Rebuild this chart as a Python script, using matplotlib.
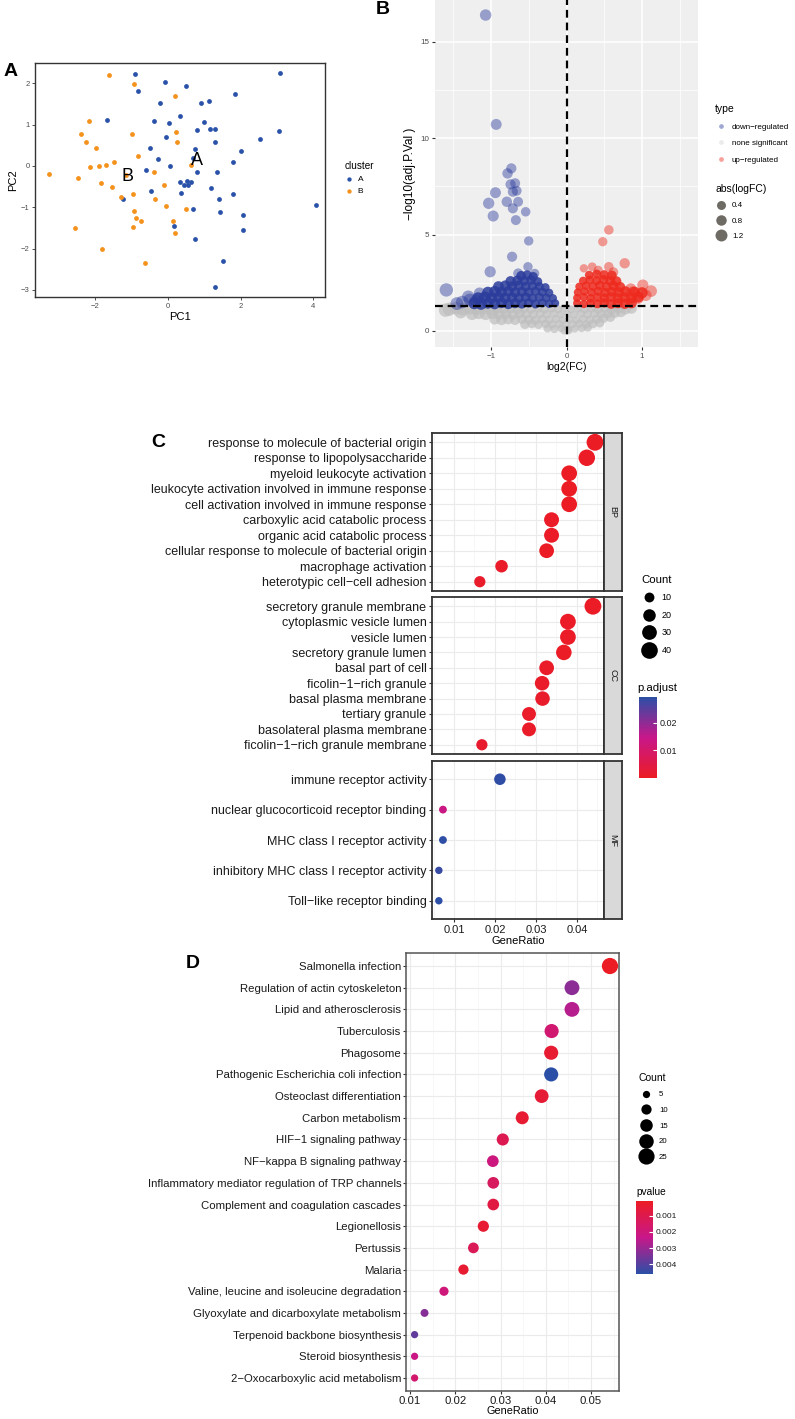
import numpy as np
import matplotlib
matplotlib.use('agg')
import matplotlib.pyplot as plt
from matplotlib.colors import LinearSegmentedColormap, Normalize
from matplotlib.lines import Line2D
import matplotlib.colorbar as mcb

plt.rcParams['font.family'] = ['Liberation Sans', 'DejaVu Sans']

# ---------------- data: A (PCA) ----------------
pca_a_x = [-0.92, -0.07, 0.50, -0.83, 3.07, 1.83, -0.23, 0.92, 1.12, -1.68, -0.39, 0.02, 0.34,
           0.98, 0.80, 1.15, 1.30, 1.28, 3.05, 2.52, -0.05, -0.50, 0.73, 2.01, -0.28, 0.69, 1.79,
           0.06, -0.61, 0.80, 1.35, 0.32, 0.52, 0.63, 0.43, 0.55, 1.17, -0.46, 0.36, 1.78, -1.25,
           1.39, 0.69, 1.42, 2.05, 4.06, 0.16, 2.06, 0.73, 1.50, 1.28]
pca_a_y = [2.22, 2.04, 1.94, 1.81, 2.26, 1.73, 1.53, 1.53, 1.56, 1.11, 1.09, 1.05, 1.21,
           1.06, 0.87, 0.90, 0.90, 0.57, 0.85, 0.65, 0.69, 0.43, 0.41, 0.35, 0.18, 0.19, 0.09,
           0.01, -0.10, -0.15, -0.14, -0.38, -0.36, -0.38, -0.46, -0.46, -0.54, -0.60, -0.66, -0.69, -0.81,
           -0.81, -1.05, -1.12, -1.18, -0.95, -1.45, -1.56, -1.76, -2.29, -2.93]
pca_b_x = [-1.63, -0.93, 0.18, -2.17, -2.39, -0.99, 0.21, -2.25, 0.26, -1.99, -0.83, -1.48, -2.14,
           -1.89, -1.70, 0.62, -3.28, -2.49, -0.39, -1.15, -1.85, -1.55, -0.11, -1.28, -0.95, -0.37,
           -0.06, 0.50, -0.93, -0.87, -0.74, -0.95, 0.13, 0.18, -2.55, -1.83, -0.62]
pca_b_y = [2.19, 1.98, 1.69, 1.08, 0.78, 0.78, 0.83, 0.59, 0.57, 0.44, 0.23, 0.09, -0.02,
           0.00, 0.02, 0.02, -0.19, -0.29, -0.15, -0.22, -0.42, -0.50, -0.47, -0.74, -0.68, -0.81,
           -0.98, -1.04, -1.08, -1.25, -1.34, -1.48, -1.32, -1.62, -1.50, -2.02, -2.34]
centroid_a = (0.79, 0.14)
centroid_b = (-1.11, -0.26)

# ---------------- data: B (volcano) ----------------
# isolated genes (drawn lighter) and the crowded genes near the thresholds
down_out_x = [-1.07, -0.93, -0.73, -0.78, -0.74, -0.68, -0.66, -0.71, -0.94, -1.03, -0.79, -0.64,
              -0.71, -0.97, -0.67, -0.54, -0.50, -0.72, -1.01, -0.51, -0.42, -0.64, -1.59, -1.30,
              -1.38, -1.45, -1.28, -1.15, -1.20]
down_out_y = [16.38, 10.71, 8.43, 8.17, 7.60, 7.66, 7.27, 7.22, 7.17, 6.62, 6.70, 6.70,
              6.36, 5.96, 5.75, 6.18, 4.67, 3.85, 3.07, 3.33, 2.99, 2.99, 2.13, 1.78,
              1.50, 1.42, 1.62, 1.95, 1.55]
down_core_x = [-1.22, -1.13, -1.04, -0.95, -0.86, -0.77, -0.68, -0.59, -0.50, -0.41, -0.32, -0.23, -0.15,
               -1.17, -1.08, -0.99, -0.90, -0.81, -0.72, -0.63, -0.54, -0.45, -0.36, -0.27, -0.18,
               -1.04, -0.95, -0.86, -0.77, -0.68, -0.59, -0.50, -0.41, -0.32, -0.23,
               -0.90, -0.81, -0.72, -0.63, -0.54, -0.45, -0.36, -0.28,
               -0.74, -0.65, -0.56, -0.47, -0.38, -0.60, -0.52, -0.44]
down_core_y = [1.44, 1.40, 1.45, 1.41, 1.46, 1.40, 1.44, 1.41, 1.46, 1.40, 1.45, 1.41, 1.44,
               1.70, 1.75, 1.71, 1.76, 1.70, 1.74, 1.71, 1.76, 1.70, 1.75, 1.72, 1.70,
               2.00, 2.05, 2.01, 2.06, 2.00, 2.04, 2.01, 2.06, 2.02, 1.98,
               2.30, 2.35, 2.31, 2.36, 2.30, 2.34, 2.31, 2.26,
               2.58, 2.62, 2.60, 2.64, 2.56, 2.86, 2.90, 2.82]
up_out_x = [0.56, 0.48, 0.77, 0.34, 0.56, 1.01, 1.12, 0.95, 0.23, 0.88, 0.42, 0.62, 1.05, 0.85]
up_out_y = [5.24, 4.63, 3.51, 3.33, 3.33, 2.38, 2.07, 1.69, 3.25, 2.04, 3.15, 3.05, 1.85, 2.20]
up_core_x = [0.14, 0.23, 0.32, 0.41, 0.50, 0.59, 0.68, 0.77, 0.86,
             0.14, 0.23, 0.32, 0.41, 0.50, 0.59, 0.68, 0.77, 0.86, 0.95,
             0.15, 0.24, 0.33, 0.42, 0.51, 0.60, 0.69, 0.78, 0.90, 1.00,
             0.17, 0.26, 0.35, 0.44, 0.53, 0.62, 0.71,
             0.22, 0.31, 0.40, 0.49, 0.58, 0.66,
             0.30, 0.40, 0.50, 0.60]
up_core_y = [1.44, 1.40, 1.45, 1.41, 1.46, 1.40, 1.44, 1.41, 1.45,
             1.71, 1.76, 1.70, 1.75, 1.71, 1.76, 1.70, 1.74, 1.71, 1.76,
             2.00, 2.05, 2.01, 2.06, 2.00, 2.04, 2.01, 2.05, 2.02, 1.98,
             2.30, 2.35, 2.31, 2.36, 2.30, 2.34, 2.28,
             2.60, 2.65, 2.61, 2.66, 2.60, 2.58,
             2.90, 2.95, 2.91, 2.88]
ns_x = [-1.55, -1.46, -1.37, -1.28, -1.19, -1.10, -1.01, -0.92, -0.83, -0.74, -0.65, -0.56, -0.47, -0.38,
        -0.29, -0.20, -0.11, -0.03, 0.06, 0.15, 0.24, 0.33, 0.42, 0.51, 0.60, 0.69, 0.78, 0.86,
        -1.25, -1.16, -1.07, -0.98, -0.89, -0.80, -0.71, -0.62, -0.53, -0.44, -0.35, -0.26, -0.17,
        -0.08, 0.01, 0.10, 0.19, 0.28, 0.37, 0.46, 0.55, 0.64, 0.72,
        -0.95, -0.86, -0.77, -0.68, -0.59, -0.50, -0.41, -0.32, -0.23, -0.14, -0.05, 0.04, 0.13,
        0.22, 0.31, 0.40, 0.49, 0.58,
        -0.55, -0.46, -0.37, -0.28, -0.19, -0.10, -0.01, 0.08, 0.17, 0.26, 0.35, 0.44,
        -0.25, -0.16, -0.07, 0.02, 0.11, 0.20, 0.28, -0.03, 0.03, -1.60, -1.40]
ns_y = [1.13, 1.18, 1.12, 1.17, 1.13, 1.18, 1.12, 1.17, 1.13, 1.18, 1.12, 1.17, 1.13, 1.18,
        1.12, 1.17, 1.13, 1.18, 1.12, 1.17, 1.13, 1.18, 1.12, 1.17, 1.13, 1.18, 1.12, 1.17,
        0.88, 0.92, 0.86, 0.91, 0.87, 0.90, 0.85, 0.91, 0.88, 0.86, 0.90, 0.87, 0.91,
        0.86, 0.89, 0.85, 0.90, 0.87, 0.91, 0.88, 0.90, 0.93, 0.98,
        0.62, 0.58, 0.61, 0.57, 0.62, 0.59, 0.56, 0.61, 0.58, 0.62, 0.57, 0.60, 0.56,
        0.61, 0.58, 0.62, 0.66, 0.72,
        0.35, 0.38, 0.33, 0.37, 0.34, 0.36, 0.32, 0.35, 0.38, 0.34, 0.37, 0.42,
        0.14, 0.10, 0.13, 0.09, 0.12, 0.15, 0.18, 0.02, 0.03, 1.08, 0.98]
fc_cut = 0
p_cut = 1.3
logfc_breaks = [0.4, 0.8, 1.2]

# ---------------- data: C (GO dotplot) ----------------
bp_terms = ['response to molecule of bacterial origin', 'response to lipopolysaccharide',
            'myeloid leukocyte activation', 'leukocyte activation involved in immune response',
            'cell activation involved in immune response', 'carboxylic acid catabolic process',
            'organic acid catabolic process', 'cellular response to molecule of bacterial origin',
            'macrophage activation', 'heterotypic cell\u2212cell adhesion']
bp_ratio = [0.0444, 0.0424, 0.0381, 0.0381, 0.0381, 0.0338, 0.0338, 0.0326, 0.0216, 0.0163]
bp_count = [41, 39, 35, 35, 35, 31, 31, 30, 20, 15]
bp_padj = [0.0002, 0.0003, 0.0001, 0.0001, 0.0001, 0.0006, 0.0006, 0.0004, 0.0009, 0.0012]

cc_terms = ['secretory granule membrane', 'cytoplasmic vesicle lumen', 'vesicle lumen',
            'secretory granule lumen', 'basal part of cell', 'ficolin\u22121\u2212rich granule',
            'basal plasma membrane', 'tertiary granule', 'basolateral plasma membrane',
            'ficolin\u22121\u2212rich granule membrane']
cc_ratio = [0.0439, 0.0378, 0.0378, 0.0368, 0.0326, 0.0315, 0.0316, 0.0283, 0.0283, 0.0168]
cc_count = [41, 35, 35, 34, 30, 29, 29, 26, 26, 15]
cc_padj = [0.0003, 0.0005, 0.0005, 0.0004, 0.0010, 0.0008, 0.0012, 0.0007, 0.0009, 0.0015]

mf_terms = ['immune receptor activity', 'nuclear glucocorticoid receptor binding',
            'MHC class I receptor activity', 'inhibitory MHC class I receptor activity',
            'Toll\u2212like receptor binding']
mf_ratio = [0.0212, 0.0073, 0.0073, 0.0063, 0.0063]
mf_count = [16, 4, 4, 3, 3]
mf_padj = [0.0285, 0.0135, 0.0286, 0.0278, 0.0288]
go_count_breaks = [10, 20, 30, 40]
padj_ticks = [0.01, 0.02]

# ---------------- data: D (KEGG dotplot) ----------------
kegg_terms = ['Salmonella infection', 'Regulation of actin cytoskeleton', 'Lipid and atherosclerosis',
              'Tuberculosis', 'Phagosome', 'Pathogenic Escherichia coli infection',
              'Osteoclast differentiation', 'Carbon metabolism', 'HIF\u22121 signaling pathway',
              'NF\u2212kappa B signaling pathway', 'Inflammatory mediator regulation of TRP channels',
              'Complement and coagulation cascades', 'Legionellosis', 'Pertussis', 'Malaria',
              'Valine, leucine and isoleucine degradation', 'Glyoxylate and dicarboxylate metabolism',
              'Terpenoid backbone biosynthesis', 'Steroid biosynthesis', '2\u2212Oxocarboxylic acid metabolism']
kegg_ratio = [0.0542, 0.0458, 0.0458, 0.0413, 0.0412, 0.0412, 0.0391, 0.0348, 0.0305, 0.0283,
              0.0284, 0.0284, 0.0262, 0.0240, 0.0218, 0.0175, 0.0132, 0.0110, 0.0110, 0.0110]
kegg_count = [25, 21, 21, 19, 19, 19, 18, 16, 14, 13, 13, 13, 12, 11, 10, 8, 6, 5, 5, 5]
kegg_p = [0.00012, 0.0032, 0.0026, 0.0018, 0.0004, 0.0046, 0.0005, 0.0004, 0.0011, 0.0021,
          0.0014, 0.0008, 0.0004, 0.0012, 0.0004, 0.0020, 0.0033, 0.0038, 0.0022, 0.0017]
kegg_count_breaks = [5, 10, 15, 20, 25]
p_ticks = [0.001, 0.002, 0.003, 0.004]

# ---------------- figure ----------------
W, H = 795, 1419
fig = plt.figure(figsize=(W / 100, H / 100), dpi=100)
PT = 0.72  # points per pixel


def box(l, t, r, b):
    return [l / W, 1 - b / H, (r - l) / W, (b - t) / H]


def fx(x):
    return x / W


def fy(y):
    return 1 - y / H


rb = LinearSegmentedColormap.from_list('rb', ['#EC1C24', '#C8178A', '#2B4FA6'])
txt = '#1A1A1A'
gridc = '#EBEBEB'

# ---- A ----
axA = fig.add_axes(box(35, 63, 325, 297))
axA.scatter(pca_a_x, pca_a_y, s=12, color='#2A52A8', lw=0, label='A')
axA.scatter(pca_b_x, pca_b_y, s=12, color='#F5921E', lw=0, label='B')
axA.text(*centroid_a, 'A', fontsize=13, ha='center', va='center')
axA.text(*centroid_b, 'B', fontsize=13, ha='center', va='center')
axA.set_xlim(-3.66, 4.32)
axA.set_ylim(-3.17, 2.49)
axA.set_xticks([-2, 0, 2, 4])
axA.set_yticks([-3, -2, -1, 0, 1, 2])
axA.tick_params(labelsize=5.5, length=2.5, width=0.6, colors='#333333', labelcolor='#4D4D4D', pad=1.5)
for sp in axA.spines.values():
    sp.set_color('#333333')
    sp.set_linewidth(1.0)
axA.set_xlabel('PC1', fontsize=8, labelpad=2)
axA.set_ylabel('PC2', fontsize=8, labelpad=2)
fig.legend(*axA.get_legend_handles_labels(), title='cluster', loc='upper left',
           bbox_to_anchor=(fx(340), fy(157)), frameon=False, fontsize=6, title_fontsize=7.2,
           markerscale=0.9, handletextpad=0.4, borderpad=0, labelspacing=0.5, alignment='left',
           handlelength=1.2)
fig.text(fx(4), fy(72), 'A', fontsize=14, fontweight='bold', va='center')

# ---- B ----
axB = fig.add_axes(box(435, 0, 698, 347))
axB.set_facecolor('#EFEFEF')


def vsize(xs):
    return [((7.5 + 3.7 * abs(v)) * PT) ** 2 for v in xs]


blue, red, grey = '#2B3C9C', '#EE2A1E', '#BEBEBE'
axB.scatter(ns_x, ns_y, s=vsize(ns_x), color=grey, alpha=0.7, lw=0, zorder=2)
axB.scatter(down_core_x, down_core_y, s=vsize(down_core_x), color=blue, alpha=0.85, lw=0, zorder=3)
axB.scatter(down_out_x, down_out_y, s=vsize(down_out_x), color=blue, alpha=0.45, lw=0, zorder=3)
axB.scatter(up_core_x, up_core_y, s=vsize(up_core_x), color=red, alpha=0.85, lw=0, zorder=3)
axB.scatter(up_out_x, up_out_y, s=vsize(up_out_x), color=red, alpha=0.45, lw=0, zorder=3)
axB.axvline(fc_cut, color='black', lw=1.6, dashes=(3.5, 2.2), zorder=4)
axB.axhline(p_cut, color='black', lw=1.6, dashes=(3.5, 2.2), zorder=4)
axB.set_xlim(-1.74, 1.74)
axB.set_ylim(-0.83, 17.16)
axB.set_xticks([-1, 0, 1])
axB.set_xticks([-1.5, -0.5, 0.5, 1.5], minor=True)
axB.set_yticks([0, 5, 10, 15])
axB.set_yticks([2.5, 7.5, 12.5], minor=True)
axB.grid(which='major', color='white', lw=1.1, zorder=0)
axB.grid(which='minor', color='white', lw=0.5, zorder=0)
axB.set_axisbelow(True)
axB.tick_params(which='major', labelsize=5.8, length=2.5, width=0.8, colors='#333333',
                labelcolor='#4D4D4D', pad=1.5)
axB.tick_params(which='minor', length=0)
for sp in axB.spines.values():
    sp.set_visible(False)
axB.set_xlabel('log2(FC)', fontsize=7.5, labelpad=2)
axB.set_ylabel('\u2212log10(adj.P.Val )', fontsize=8.6, labelpad=3)

type_handles = [Line2D([], [], ls='none', marker='o', ms=3.4, mec='none', mfc=c, alpha=a)
                for c, a in [(blue, 0.45), (grey, 0.3), (red, 0.45)]]
fig.legend(type_handles, ['down\u2212regulated', 'none significant', 'up\u2212regulated'],
           title='type', loc='upper left', bbox_to_anchor=(fx(711), fy(100)), frameon=False,
           fontsize=5.8, title_fontsize=7.5, handletextpad=0.5, borderpad=0,
           labelspacing=1.1, alignment='left', handlelength=1.6)
size_handles = [Line2D([], [], ls='none', marker='o', ms=(7.5 + 3.7 * v) * PT, mec='none', mfc='#6E6A64')
                for v in logfc_breaks]
fig.legend(size_handles, [str(v) for v in logfc_breaks], title='abs(logFC)', loc='upper left',
           bbox_to_anchor=(fx(711), fy(180)), frameon=False, fontsize=5.8, title_fontsize=7.5,
           handletextpad=0.5, borderpad=0, labelspacing=0.95, alignment='left', handlelength=1.6)
fig.text(fx(376), fy(10), 'B', fontsize=14, fontweight='bold', va='center')

# ---- C ----
padj_norm = Normalize(vmin=0.0, vmax=0.029)


def go_size(c):
    return [(np.sqrt(55 + 6.0 * (v - 3)) * PT) ** 2 for v in c]


facets = [('BP', bp_terms, bp_ratio, bp_count, bp_padj, 433, 591),
          ('CC', cc_terms, cc_ratio, cc_count, cc_padj, 597, 754),
          ('MF', mf_terms, mf_ratio, mf_count, mf_padj, 761, 919)]
for name, terms, ratio, count, padj, top, bot in facets:
    ax = fig.add_axes(box(432, top, 604, bot))
    n = len(terms)
    ypos = np.arange(n, 0, -1)
    ax.scatter(ratio, ypos, s=go_size(count), c=padj, cmap=rb, norm=padj_norm, lw=0, zorder=3)
    ax.set_xlim(0.00463, 0.0466)
    ax.set_ylim(0.4, n + 0.6)
    ax.set_yticks(ypos)
    ax.set_yticklabels(terms)
    ax.set_xticks([0.01, 0.02, 0.03, 0.04])
    ax.set_xticks([0.005, 0.015, 0.025, 0.035, 0.045], minor=True)
    ax.grid(which='major', color=gridc, lw=0.8, zorder=0)
    ax.grid(which='minor', axis='x', color='#F4F4F4', lw=0.5, zorder=0)
    ax.tick_params(which='major', labelsize=9, length=2.5, width=0.8, colors='#333333',
                   labelcolor=txt, pad=1.5)
    ax.tick_params(which='minor', length=0)
    for sp in ax.spines.values():
        sp.set_color('#333333')
        sp.set_linewidth(1.3)
    if name != 'MF':
        ax.tick_params(axis='x', labelbottom=False, length=0)
    else:
        ax.set_xticklabels(['0.01', '0.02', '0.03', '0.04'], fontsize=8)
        ax.set_xlabel('GeneRatio', fontsize=8, labelpad=1)
    st = fig.add_axes(box(604, top, 622, bot))
    st.set_facecolor('#D9D9D9')
    st.set_xticks([])
    st.set_yticks([])
    for sp in st.spines.values():
        sp.set_color('#333333')
        sp.set_linewidth(1.3)
    st.text(0.5, 0.5, name, rotation=-90, ha='center', va='center', fontsize=6.5,
            color='#1A1A1A', transform=st.transAxes)

go_handles = [Line2D([], [], ls='none', marker='o', mec='none', mfc='black',
                     ms=np.sqrt(s)) for s in go_size(go_count_breaks)]
fig.legend(go_handles, [str(v) for v in go_count_breaks], title='Count', loc='upper left',
           bbox_to_anchor=(fx(637), fy(570)), frameon=False, fontsize=6.5, title_fontsize=8.2,
           handletextpad=0.6, borderpad=0, labelspacing=0.95, alignment='left', handlelength=1.6)
fig.text(fx(637), fy(688), 'p.adjust', fontsize=8.2, va='center')
caxC = fig.add_axes(box(639, 697, 657, 778))
cbC = mcb.ColorbarBase(caxC, cmap=rb, norm=Normalize(vmin=0.0, vmax=0.0293), ticks=padj_ticks)
cbC.outline.set_visible(False)
caxC.tick_params(length=3, width=0.8, color='white', labelsize=6.5, labelcolor=txt, pad=2, direction='in')
fig.text(fx(151), fy(442), 'C', fontsize=14, fontweight='bold', va='center')

# ---- D ----
axD = fig.add_axes(box(406, 953, 619, 1391))
nk = len(kegg_terms)
yk = np.arange(nk, 0, -1)
p_norm = Normalize(vmin=0.0001, vmax=0.0046)


def kegg_size(c):
    return [(np.sqrt(10.5 * v) * PT) ** 2 for v in c]


axD.scatter(kegg_ratio, yk, s=kegg_size(kegg_count), c=kegg_p, cmap=rb, norm=p_norm, lw=0, zorder=3)
axD.set_xlim(0.0091, 0.0562)
axD.set_ylim(0.4, nk + 0.6)
axD.set_yticks(yk)
axD.set_yticklabels(kegg_terms)
axD.set_xticks([0.01, 0.02, 0.03, 0.04, 0.05])
axD.set_xticks([0.015, 0.025, 0.035, 0.045, 0.055], minor=True)
axD.grid(which='major', color=gridc, lw=0.8, zorder=0)
axD.grid(which='minor', axis='x', color='#F4F4F4', lw=0.5, zorder=0)
axD.tick_params(which='major', length=2, width=0.8, colors='#333333', labelcolor=txt, pad=1.5)
axD.tick_params(axis='y', labelsize=8.2)
axD.tick_params(axis='x', labelsize=8.2, pad=1.5)
axD.tick_params(which='minor', length=0)
for sp in axD.spines.values():
    sp.set_color('#555555')
    sp.set_linewidth(1.1)
axD.set_xlabel('GeneRatio', fontsize=7.8, labelpad=0)

kg_handles = [Line2D([], [], ls='none', marker='o', mec='none', mfc='black',
                     ms=np.sqrt(s)) for s in kegg_size(kegg_count_breaks)]
fig.legend(kg_handles, [str(v) for v in kegg_count_breaks], title='Count', loc='upper left',
           bbox_to_anchor=(fx(635), fy(1069)), frameon=False, fontsize=5.6, title_fontsize=7.5,
           handletextpad=0.8, borderpad=0, labelspacing=1.05, alignment='left', handlelength=1.8)
fig.text(fx(636), fy(1192), 'pvalue', fontsize=7.3, va='center')
caxD = fig.add_axes(box(636, 1201, 653, 1274))
cbD = mcb.ColorbarBase(caxD, cmap=rb, norm=p_norm, ticks=p_ticks)
cbD.outline.set_visible(False)
caxD.invert_yaxis()
caxD.tick_params(length=3, width=0.8, color='white', labelsize=6, labelcolor=txt, pad=2, direction='in')
fig.text(fx(186), fy(964), 'D', fontsize=14, fontweight='bold', va='center')

fig.savefig('out.png', dpi=100)
